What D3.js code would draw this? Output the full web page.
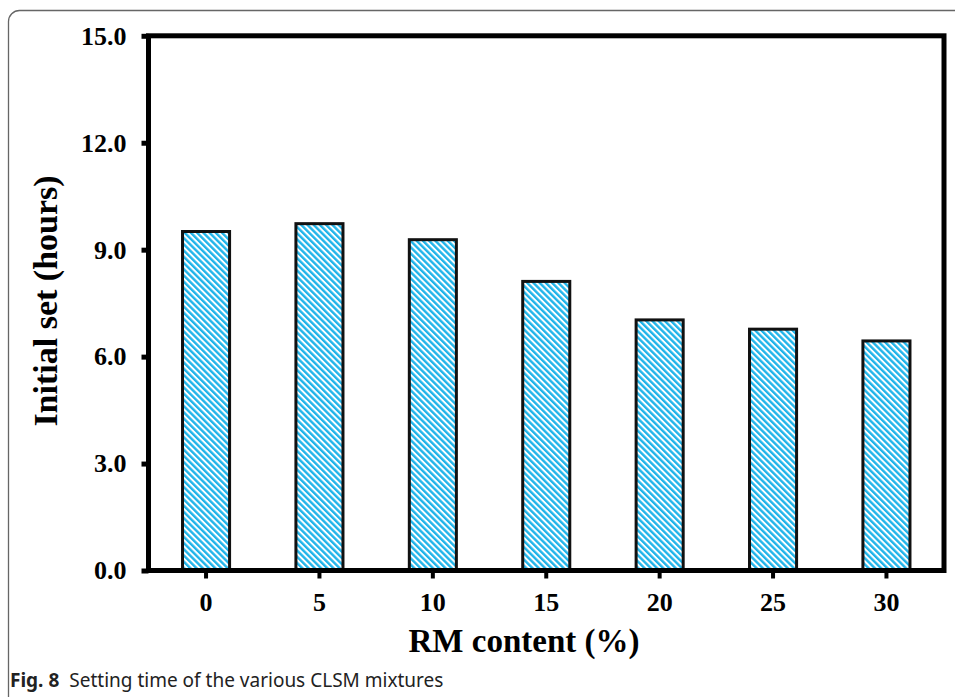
<!DOCTYPE html>
<html><head><meta charset="utf-8">
<script src="https://cdn.jsdelivr.net/npm/d3@7"></script>
<style>html,body{margin:0;padding:0;background:#fff;}svg{display:block;}</style>
</head><body>
<script>
const categories = ["0","5","10","15","20","25","30"];
const values = [9.51, 9.73, 9.28, 8.11, 7.03, 6.77, 6.44];
const yTicks = [0, 3, 6, 9, 12, 15];
const yLabel = "Initial set (hours)";
const xLabel = "RM content (%)";

const W = 955, H = 697;
const svg = d3.select("body").append("svg").attr("width", W).attr("height", H);

const defs = svg.append("defs");
const pat = defs.append("pattern").attr("id","hatch").attr("patternUnits","userSpaceOnUse")
  .attr("width",4.4).attr("height",4.4).attr("patternTransform","rotate(-45)");
pat.append("rect").attr("width",4.4).attr("height",4.4).attr("fill","#ffffff");
pat.append("rect").attr("width",2.4).attr("height",4.4).attr("fill","#1fb4ea");

// outer rounded frame
svg.append("rect").attr("x",8.5).attr("y",10.5).attr("width",1000).attr("height",800)
  .attr("rx",11).attr("fill","none").attr("stroke","#666").attr("stroke-width",1.3);

const L = 148.5, R = 944, T = 35.8, B = 570.5;
const x = d3.scaleBand().domain(categories).range([L, R]).paddingInner(0.585).paddingOuter(0.3);
const y = d3.scaleLinear().domain([0, 15]).range([B, T]);

const g = svg.append("g");
g.selectAll("rect.bar").data(values).join("rect").attr("class","bar")
  .attr("x",(d,i)=>x(categories[i])).attr("width",x.bandwidth())
  .attr("y",d=>y(d)).attr("height",d=>y(0)-y(d))
  .attr("fill","url(#hatch)").attr("stroke","#111").attr("stroke-width",3);

// frame
g.append("rect").attr("x",L).attr("y",T).attr("width",R-L).attr("height",B-T)
  .attr("fill","none").attr("stroke","#000").attr("stroke-width",5);

const serif = "'Liberation Serif', 'Times New Roman', serif";

// y axis
const yAxis = d3.axisLeft(y).tickValues(yTicks).tickFormat(d3.format(".1f")).tickSize(7).tickPadding(15);
const ya = svg.append("g").attr("transform",`translate(${L},0)`).call(yAxis);
ya.select(".domain").remove();
ya.selectAll(".tick line").attr("stroke","#000").attr("stroke-width",5);
ya.selectAll(".tick text").attr("font-family",serif)
  .attr("font-weight","bold").attr("font-size",26).attr("fill","#000");

// x axis
const xAxis = d3.axisBottom(x).tickSize(8).tickPadding(14);
const xa = svg.append("g").attr("transform",`translate(0,${B})`).call(xAxis);
xa.select(".domain").remove();
xa.selectAll(".tick line").attr("stroke","#000").attr("stroke-width",4);
xa.selectAll(".tick text").attr("font-family",serif)
  .attr("font-weight","bold").attr("font-size",26).attr("fill","#000");

svg.append("text").attr("x",524).attr("y",652).attr("text-anchor","middle")
  .attr("font-family",serif).attr("font-weight","bold").attr("font-size",33)
  .text(xLabel);
svg.append("text").attr("transform","translate(57,301) rotate(-90)").attr("text-anchor","middle")
  .attr("font-family",serif).attr("font-weight","bold").attr("font-size",34)
  .text(yLabel);

const cap = svg.append("text").attr("x",10).attr("y",687).attr("font-family","'Noto Sans', 'Open Sans', sans-serif")
  .attr("font-size",19).attr("fill","#222");
cap.append("tspan").attr("font-weight","bold").text("Fig. 8");
cap.append("tspan").attr("dx",10).text("Setting time of the various CLSM mixtures");
</script>
</body></html>
